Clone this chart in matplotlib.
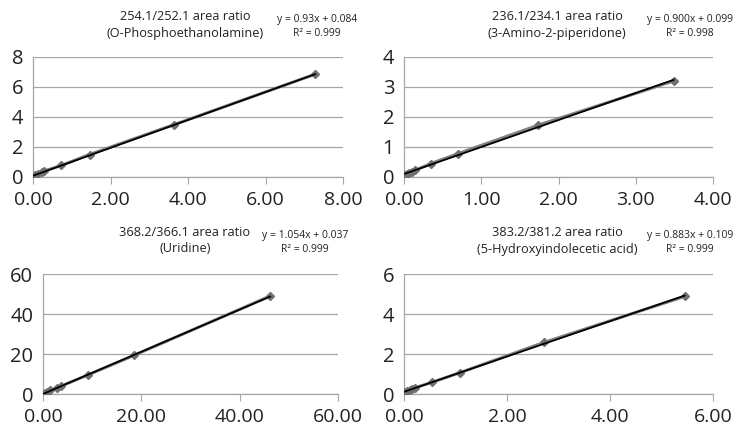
import matplotlib
matplotlib.use("Agg")
import matplotlib.pyplot as plt
import numpy as np

plt.rcParams['font.family'] = ['Open Sans', 'DejaVu Sans']

W, H = 744, 432

titles = ["254.1/252.1 area ratio\n(O-Phosphoethanolamine)",
          "236.1/234.1 area ratio\n(3-Amino-2-piperidone)",
          "368.2/366.1 area ratio\n(Uridine)",
          "383.2/381.2 area ratio\n(5-Hydroxyindolecetic acid)"]
equations = ["y = 0.93x + 0.084\nR² = 0.999",
             "y = 0.900x + 0.099\nR² = 0.998",
             "y = 1.054x + 0.037\nR² = 0.999",
             "y = 0.883x + 0.109\nR² = 0.999"]
slopes = [0.93, 0.900, 1.054, 0.883]
intercepts = [0.084, 0.099, 0.037, 0.109]

x1 = [0.02, 0.05, 0.12, 0.22, 0.29, 0.73, 1.46, 3.65, 7.28]
y1 = [0.10, 0.12, 0.22, 0.35, 0.40, 0.77, 1.50, 3.50, 6.85]
x2 = [0.014, 0.035, 0.07, 0.10, 0.14, 0.35, 0.70, 1.74, 3.49]
y2 = [0.08, 0.10, 0.15, 0.18, 0.22, 0.45, 0.78, 1.73, 3.20]
x3 = [0.15, 0.4, 0.9, 1.5, 2.8, 3.7, 9.2, 18.5, 46.2]
y3 = [0.2, 0.5, 1.0, 1.8, 3.2, 4.0, 9.6, 19.3, 49.0]
x4 = [0.02, 0.05, 0.11, 0.16, 0.22, 0.54, 1.09, 2.72, 5.45]
y4 = [0.10, 0.14, 0.20, 0.25, 0.32, 0.58, 1.07, 2.58, 4.88]
xs = [x1, x2, x3, x4]
ys = [y1, y2, y3, y4]

xlims = [(0, 8), (0, 4), (0, 60), (0, 6)]
xticks = [[0, 2, 4, 6, 8], [0, 1, 2, 3, 4], [0, 20, 40, 60], [0, 2, 4, 6]]
ylims = [(0, 8), (0, 4), (0, 60), (0, 6)]
yticks = [[0, 2, 4, 6, 8], [0, 1, 2, 3, 4], [0, 20, 40, 60], [0, 2, 4, 6]]

# pixel boxes: left, right, top, bottom
boxes = [(33, 343, 57, 177), (404, 713, 57, 177),
         (43, 338, 274, 394), (404, 713, 274, 394)]
title_pos = [(185, 10), (557, 10), (185, 226), (557, 226)]
eq_pos = [(317, 14), (690, 14), (305, 230), (690, 230)]

fig = plt.figure(figsize=(W / 100, H / 100), dpi=100)
grid_c = '#a6a6a6'
for i in range(4):
    l, r, t, b = boxes[i]
    ax = fig.add_axes([l / W, 1 - b / H, (r - l) / W, (b - t) / H])
    ax.set_xlim(*xlims[i])
    ax.set_ylim(*ylims[i])
    ax.set_xticks(xticks[i])
    ax.set_xticklabels([f"{v:.2f}" for v in xticks[i]])
    ax.set_yticks(yticks[i])
    ax.set_yticklabels([f"{v:g}" for v in yticks[i]])
    ax.grid(axis='y', color=grid_c, lw=0.9)
    ax.set_axisbelow(True)
    for s in ['top', 'right']:
        ax.spines[s].set_visible(False)
    for s in ['left', 'bottom']:
        ax.spines[s].set_color(grid_c)
        ax.spines[s].set_linewidth(0.9)
    ax.tick_params(axis='x', length=5, color=grid_c, labelsize=14, pad=5, labelcolor='#222222')
    ax.tick_params(axis='y', length=0, labelsize=14.5, pad=7, labelcolor='#222222')
    ax.plot(xs[i], ys[i], color='#808080', lw=2.2, marker='D', ms=4.5,
            mfc='#707070', mec='#707070', zorder=3)
    xf = np.array([min(xs[i]), max(xs[i])])
    ax.plot(xf, slopes[i] * xf + intercepts[i], color='black', lw=1.3, zorder=4)

    tx, ty = title_pos[i]
    fig.text(tx / W, 1 - ty / H, titles[i], ha='center', va='top',
             fontsize=9.2, color='#222222', linespacing=1.35)
    ex, ey = eq_pos[i]
    fig.text(ex / W, 1 - ey / H, equations[i], ha='center', va='top',
             fontsize=7.5, color='#222222', linespacing=1.35)

fig.savefig('out.png', dpi=100, facecolor='white')
